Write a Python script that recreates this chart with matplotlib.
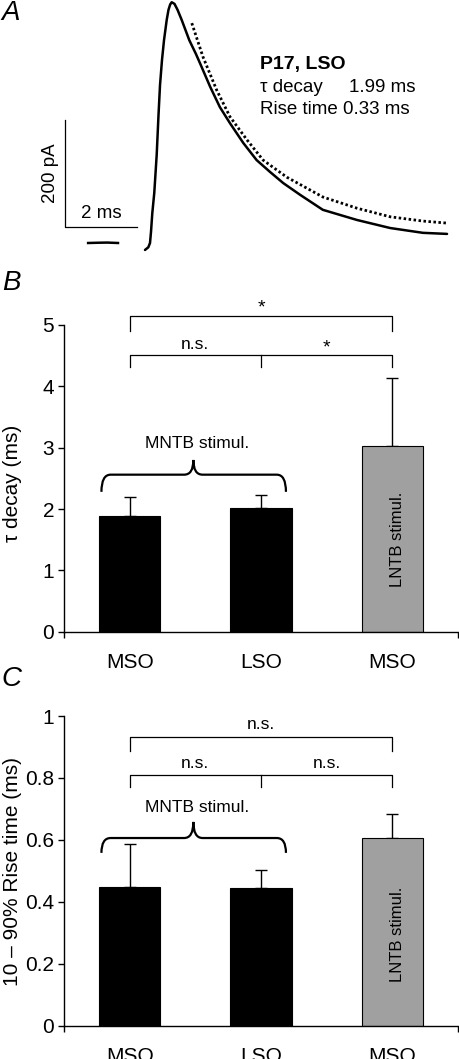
import numpy as np
import matplotlib.pyplot as plt
from matplotlib.path import Path
from matplotlib.patches import PathPatch

plt.rcParams['font.family'] = ['Liberation Sans', 'DejaVu Sans']

trace_t = [0.000, 0.092, 0.139, 0.167, 0.203, 0.258, 0.325, 0.375, 0.417, 0.472,
           0.528, 0.603, 0.653, 0.700, 0.742, 0.819, 0.903, 1.019, 1.231, 1.417,
           1.528, 1.81, 2.08, 2.36, 2.73, 3.10, 3.47, 3.84, 4.31, 4.94, 5.89, 6.81,
           7.72, 8.39]
trace_i = [-13, -8, 0, 21, 56, 94, 165, 239, 295, 342,
           379, 417, 436, 446, 450, 447, 436, 417, 379, 353,
           336, 292, 254, 224, 187, 155, 133, 112, 90, 62, 43, 28,
           19, 17]
fit_t = [1.30, 1.61, 1.99, 2.36, 2.83, 3.28, 3.94, 4.94, 5.89, 6.81, 7.72, 8.42]
fit_i = [411, 348, 286, 236, 193, 155, 123, 86, 65, 49, 41, 37]
base_t = [-1.58, -1.30, -1.05, -0.75]
base_i = [0, 0.5, 0.8, 0]

# panels B and C
groups = ['MSO', 'LSO', 'MSO']
bar_colors = ['black', 'black', '#a0a0a0']
tau_mean = [1.89, 2.02, 3.03]
tau_sem = [0.30, 0.21, 1.10]
rise_mean = [0.449, 0.444, 0.606]
rise_sem = [0.138, 0.060, 0.079]
tau_sig = ['*', 'n.s.', '*']
rise_sig = ['n.s.', 'n.s.', 'n.s.']

W, H = 460, 1059
fig = plt.figure(figsize=(W / 100, H / 100), dpi=100)


def fig_box(left, top, right, bottom):
    return [left / W, 1 - bottom / H, (right - left) / W, (bottom - top) / H]


# ---- A ----
axA = fig.add_axes(fig_box(0, 0, 460, 255))
axA.set_xlim(-145 / 36, 315 / 36)
axA.set_ylim(-12 / 0.535, 243 / 0.535)
axA.axis('off')
axA.plot(trace_t, trace_i, color='black', lw=1.8, clip_on=False,
         solid_joinstyle='round', solid_capstyle='round')
axA.plot(base_t, base_i, color='black', lw=1.8)
axA.plot(fit_t, fit_i, color='black', lw=2.0, linestyle=(0, (0.9, 0.9)))
# scale bars
axA.plot([-2.22, -2.22, -0.22], [230, 30, 30], color='black', lw=0.9)
axA.text(-2.62, 130, '200 pA', rotation=90, ha='center', va='center', fontsize=13.5)
axA.text(-1.22, 40, '2 ms', ha='center', va='bottom', fontsize=13.5)
fig.text(260 / W, 1 - 65 / H, 'P17, LSO', fontsize=14, fontweight='bold', va='center')
fig.text(260 / W, 1 - 88 / H, 'τ decay', fontsize=13.5, va='center')
fig.text(416 / W, 1 - 88 / H, '1.99 ms', fontsize=13.5, va='center', ha='right')
fig.text(260 / W, 1 - 110 / H, 'Rise time 0.33 ms', fontsize=13.5, va='center')


def brace(ax, x0, x1, xc, y_tip, y_h, y_cusp, r=0.07):
    verts = [(x0, y_tip), (x0, y_h), (x0 + r, y_h), (xc - r, y_h),
             (xc, y_h), (xc, y_cusp), (xc, y_h), (xc + r, y_h),
             (x1 - r, y_h), (x1, y_h), (x1, y_tip)]
    codes = [Path.MOVETO, Path.CURVE3, Path.CURVE3, Path.LINETO,
             Path.CURVE3, Path.CURVE3, Path.CURVE3, Path.CURVE3,
             Path.LINETO, Path.CURVE3, Path.CURVE3]
    ax.add_patch(PathPatch(Path(verts, codes), fill=False, lw=1.6,
                           edgecolor='black', clip_on=False))


def bar_panel(ax, means, sems, sig, ymax, yticks, ylabels, brk, lab_y, brace_y, mntb_y, lntb_y):
    x = np.arange(len(groups))
    ax.bar(x, means, width=0.465, color=bar_colors, edgecolor='black', linewidth=0.8, zorder=2)
    ax.errorbar(x, means, yerr=[np.zeros(len(x)), sems], fmt='none', ecolor='black',
                elinewidth=1.0, capsize=4, capthick=1.0, zorder=1)
    ax.set_xlim(-0.5, 2.5)
    ax.set_ylim(0, ymax)
    ax.spines[['top', 'right']].set_visible(False)
    ax.spines[['left', 'bottom']].set_linewidth(1.0)
    ax.set_yticks(yticks)
    ax.set_yticklabels(ylabels, fontsize=15)
    ax.tick_params(axis='y', length=4, width=1.0, direction='out', pad=3)
    ax.set_xticks(x)
    ax.set_xticklabels(groups, fontsize=15)
    ax.tick_params(axis='x', length=0, pad=15)
    ax.set_xticks([-0.5, 2.5], minor=True)
    ax.tick_params(axis='x', which='minor', length=4, width=1.0, direction='out')
    # significance brackets
    top, top_drop, low, low_drop = brk
    ax.plot([0, 0, 2, 2], [top_drop, top, top, top_drop], color='black', lw=0.9, clip_on=False)
    ax.plot([0, 0, 2, 2], [low_drop, low, low, low_drop], color='black', lw=0.9, clip_on=False)
    ax.plot([1, 1], [low, low_drop], color='black', lw=0.9, clip_on=False)
    for (xs, ys, s) in zip([1, 0.5, 1.5], lab_y, sig):
        fs = 14 if s == '*' else 12.5
        ax.text(xs, ys, s, ha='center', va='center', fontsize=fs, clip_on=False)
    brace(ax, -0.215, 1.19, 0.485, *brace_y)
    ax.text(0.515, mntb_y, 'MNTB stimul.', ha='center', va='center', fontsize=12.5)
    ax.text(2.04, lntb_y, 'LNTB stimul.', rotation=90, ha='center', va='center', fontsize=12)


axB = fig.add_axes(fig_box(64, 325, 458, 631.7))
bar_panel(axB, tau_mean, tau_sem, tau_sig, 5, [0, 1, 2, 3, 4, 5], ['0', '1', '2', '3', '4', '5'],
          (5.14, 4.91, 4.51, 4.32), [5.28, 4.68, 4.62], (2.28, 2.56, 2.80), 3.06, 1.50)

axC = fig.add_axes(fig_box(64, 716, 458, 1025.7))
bar_panel(axC, rise_mean, rise_sem, rise_sig, 1, [0, 0.2, 0.4, 0.6, 0.8, 1],
          ['0', '0.2', '0.4', '0.6', '0.8', '1'],
          (0.931, 0.888, 0.810, 0.770), [0.971, 0.848, 0.848], (0.558, 0.606, 0.658), 0.706, 0.296)

fig.text(13 / W, 1 - 483 / H, 'τ decay (ms)', rotation=90, ha='center', va='center', fontsize=15)
fig.text(13 / W, 1 - 872 / H, '10 – 90% Rise time (ms)', rotation=90, ha='center', va='center',
         fontsize=15)

for lab, yy in zip(['A', 'B', 'C'], [13, 283, 679]):
    fig.text(11 / W, 1 - yy / H, lab, ha='center', va='center', fontsize=20, style='italic')

fig.savefig('out.png', dpi=100)
